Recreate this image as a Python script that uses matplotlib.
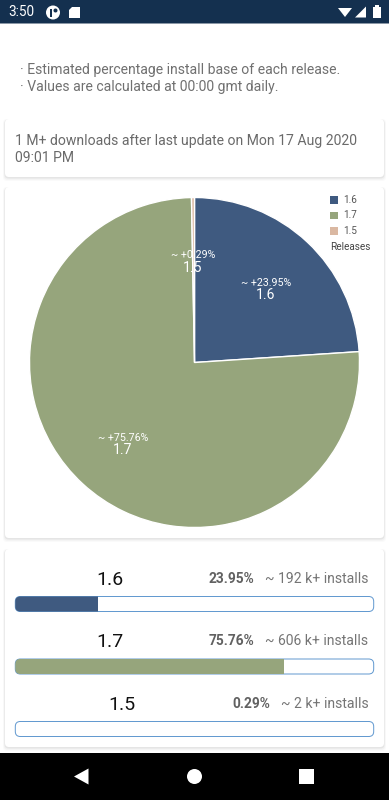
import matplotlib
matplotlib.use("Agg")
import matplotlib.pyplot as plt
from matplotlib.patches import FancyBboxPatch, Polygon, Circle, Rectangle

plt.rcParams["font.family"] = ["Roboto", "DejaVu Sans"]

releases = ["1.6", "1.7", "1.5"]
shares = [23.95, 75.76, 0.29]
installs = ["192 k+", "606 k+", "2 k+"]
colors = ["#3f5a80", "#96a57c", "#dab8a2"]
info_lines = ["· Estimated percentage install base of each release.",
              "· Values are calculated at 00:00 gmt daily."]
update_lines = ["1 M+ downloads after last update on Mon 17 Aug 2020", "09:01 PM"]

W, H = 389, 800
PX = 0.72  # font px to pt at dpi 100


def px_axes(fig, x0, y0, x1, y1):
    return fig.add_axes([x0 / W, 1 - y1 / H, (x1 - x0) / W, (y1 - y0) / H])


def card(ax, x0, y0, x1, y1):
    # soft shadow, then the white card
    for grow, dy, alpha in [(2.0, 2.0, 0.02), (1.2, 1.6, 0.03), (0.5, 1.0, 0.05)]:
        ax.add_patch(FancyBboxPatch((x0 - grow + 4, y0 - grow + dy + 4), x1 - x0 + 2 * grow - 8, y1 - y0 + 2 * grow - 8,
                                    boxstyle="round,pad=4,rounding_size=4", fc="black", ec="none", alpha=alpha))
    ax.add_patch(FancyBboxPatch((x0 + 4, y0 + 4), x1 - x0 - 8, y1 - y0 - 8,
                                boxstyle="round,pad=4,rounding_size=4", fc="white", ec="none"))


fig = plt.figure(figsize=(W / 100, H / 100), dpi=100, facecolor="white")
bg = fig.add_axes([0, 0, 1, 1])
bg.set_xlim(0, W)
bg.set_ylim(H, 0)
bg.axis("off")

# status bar
bg.add_patch(Rectangle((0, 0), W, 23, fc="#14304f", ec="none"))
bg.add_patch(Rectangle((0, 23), W, 1, fc="#8a97a6", ec="none"))
bg.text(8, 12.5, "3:50", color="white", fontsize=13.5 * PX, va="center", ha="left")
bg.add_patch(Circle((53, 12.5), 7, fc="white", ec="none"))
bg.add_patch(Rectangle((50.5, 8.5), 2, 8, fc="#14304f", ec="none"))
bg.add_patch(Circle((55.5, 10.5), 2, fc="#14304f", ec="none"))
bg.add_patch(Polygon([[72, 7], [80, 7], [80, 18], [69.5, 18], [69.5, 9.5]], fc="white", ec="none"))
bg.add_patch(Polygon([[338, 8], [352, 8], [345, 17]], fc="white", ec="none"))
bg.add_patch(Polygon([[355, 17.5], [366, 6.5], [366, 17.5]], fc="white", ec="none"))
bg.add_patch(Rectangle((373.5, 7), 7.5, 11, fc="white", ec="none"))
bg.add_patch(Rectangle((375.5, 5), 3.5, 2, fc="white", ec="none"))

# info text
bg.text(20, 70.3, info_lines[0], color="#707070", fontsize=14.05 * PX, va="center", ha="left")
bg.text(20, 86.8, info_lines[1], color="#707070", fontsize=14.05 * PX, va="center", ha="left")

# cards
card(bg, 5, 119, 384, 177)
card(bg, 5, 187, 384, 538)
card(bg, 5, 549, 384, 747)
bg.text(15.5, 141, update_lines[0], color="#6a6a6a", fontsize=14.05 * PX, va="center", ha="left")
bg.text(15.5, 157.5, update_lines[1], color="#6a6a6a", fontsize=14.05 * PX, va="center", ha="left")

# pie
pie_ax = px_axes(fig, 29.5, 197.5, 359.5, 527.5)
pie_ax.pie(shares, colors=colors, startangle=90, counterclock=False, radius=1,
           wedgeprops={"edgecolor": "white", "linewidth": 1.0})
pie_ax.set_xlim(-1, 1)
pie_ax.set_ylim(-1, 1)

label_pos = [(266, 283, 295), (123, 438, 450.5), (193, 255, 267.5)]
top = fig.add_axes([0, 0, 1, 1])
top.set_xlim(0, W)
top.set_ylim(H, 0)
top.axis("off")
top.patch.set_alpha(0)
for name, share, (x, y1, y2) in zip(releases, shares, label_pos):
    top.text(x, y1, "~ +%.2f%%" % share, color="white", fontsize=10.6 * PX, ha="center", va="center")
    top.text(x, y2, name, color="white", fontsize=14 * PX, ha="center", va="center")

# legend
for name, color, y in zip(releases, colors, [200, 215.5, 231]):
    top.add_patch(Rectangle((330, y - 3.8), 7.6, 7.6, fc=color, ec="none"))
    top.text(343, y, name, color="#555555", fontsize=10 * PX, va="center", ha="left")
top.text(330, 247, "Releases", color="#444444", fontsize=10 * PX, va="center", ha="left")

# progress bars
row_y = [604, 666.5, 729]
name_x = [110, 110, 122]
share_x = [254.5, 254.5, 270.5]
for i, name in enumerate(releases):
    y = row_y[i]
    track_ax = px_axes(fig, 15.3, y - 8, 373.7, y + 8)
    track_ax.set_xlim(1.0, 100.8)
    track_ax.set_ylim(0, 1)
    track_ax.axis("off")
    track = FancyBboxPatch((15.3 + 5, y - 7.5 + 5), 358.4 - 10, 15 - 10, boxstyle="round,pad=5,rounding_size=5",
                           fc="none", ec="none", transform=bg.transData)
    top.add_patch(track)
    bars = track_ax.barh([0.5], [shares[i]], height=1.0, color=colors[i], edgecolor="none")
    for b in bars:
        b.set_clip_path(track)
    top.add_patch(FancyBboxPatch((15.3 + 5, y - 7.5 + 5), 358.4 - 10, 15 - 10, boxstyle="round,pad=5,rounding_size=5",
                                 fc="none", ec="#5f97cf", lw=0.7))
    label_y = y - 25.2
    top.text(name_x[i], label_y + 0.8, name, color="#111111", fontsize=19.5 * PX, ha="center", va="center")
    top.text(share_x[i], label_y, "%.2f%%" % shares[i], color="#616161", fontsize=13.8 * PX,
             fontweight="bold", ha="right", va="center")
    top.text(368.5, label_y, "~ %s installs" % installs[i], color="#757575", fontsize=14 * PX,
             ha="right", va="center")

# navigation bar
top.add_patch(Rectangle((0, 753), W, 47, fc="black", ec="none"))
top.add_patch(Polygon([[74, 776.5], [88.5, 768.5], [88.5, 784.5]], fc="white", ec="none"))
top.add_patch(Circle((194.5, 776.5), 7.5, fc="white", ec="none"))
top.add_patch(Rectangle((299, 769), 15, 15, fc="white", ec="none"))

fig.savefig("out.png", dpi=100)
plt.close()
